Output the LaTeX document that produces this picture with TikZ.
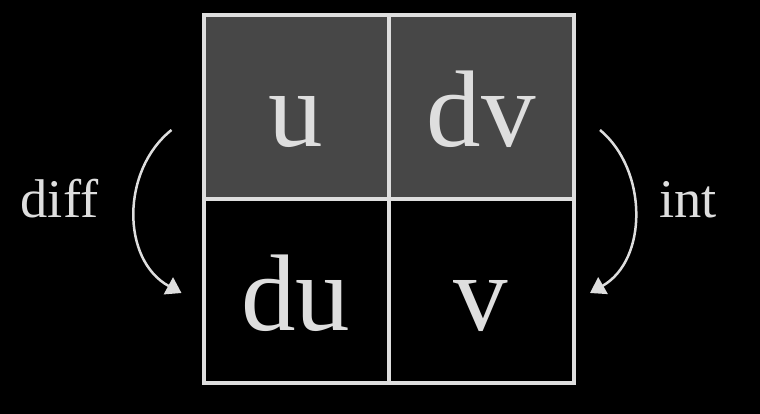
\documentclass[tikz,border=0pt]{standalone}
\usepackage{fontspec}
\setmainfont{Liberation Serif}
\usetikzlibrary{positioning,arrows.meta}
\definecolor{chalk}{RGB}{222,222,222}
\definecolor{cellgray}{RGB}{71,71,71}
\begin{document}
\begin{tikzpicture}[
    cell/.style={draw=chalk,line width=0.08cm,outer sep=0pt,minimum width=3.7cm,minimum height=3.68cm,
      text=chalk,text height=1.8cm,text depth=0.2cm,font=\fontsize{62}{70}\selectfont},
    side/.style={text=chalk,anchor=base,font=\fontsize{31}{36}\selectfont},
    bow/.style={draw=chalk,line width=0.05cm,-{Triangle[width=0.38cm,length=0.3cm]}}
  ]
  %sfondo
  \fill[black] (0,0) rectangle (15.2,8.28);
  \useasboundingbox (0,0) rectangle (15.2,8.28);
  %tabella
  \node[cell,fill=cellgray] (u) at (5.92,6.14) {u};
  \node[cell,fill=cellgray,right=0pt of u] (dv) {dv};
  \node[cell,below=0pt of u] (du) {du};
  \node[cell,right=0pt of du] (v) {v};
  %frecce
  \coordinate (diffstart) at (3.43,5.68);
  \coordinate (diffend) at (3.63,2.42);
  \coordinate (intstart) at (12.0,5.68);
  \coordinate (intend) at (11.8,2.42);
  \draw[bow] (diffstart) .. controls (2.42,4.88) and (2.42,3.08) .. (diffend);
  \draw[bow] (intstart) .. controls (12.96,4.88) and (12.96,3.08) .. (intend);
  %nomi
  \node[side] (diff) at (1.19,3.92) {diff};
  \node[side] (int) at (13.76,3.92) {int};
\end{tikzpicture}
\end{document}
